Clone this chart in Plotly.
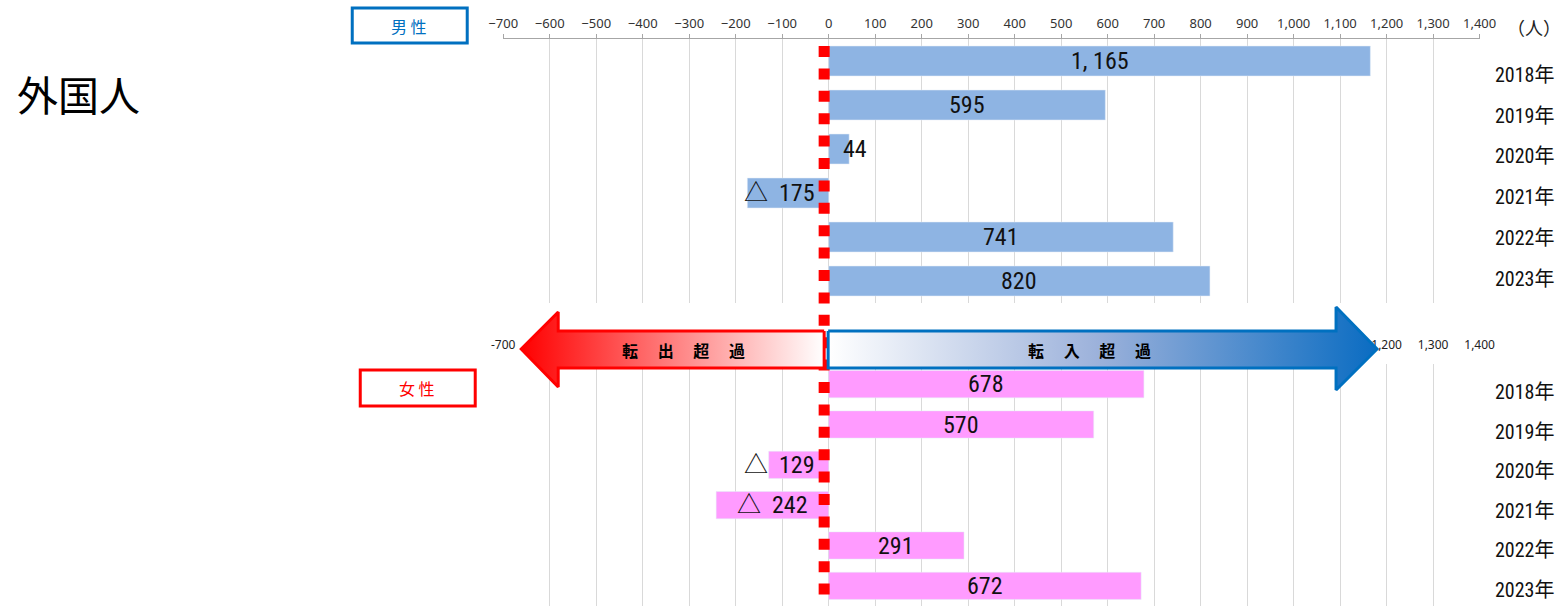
import plotly.graph_objects as go

# ---------------- data ----------------
YEARS = ["2018年", "2019年", "2020年", "2021年", "2022年", "2023年"]
MALE = [1165, 595, 44, -175, 741, 820]
FEMALE = [678, 570, -129, -242, 291, 672]
TICKS = list(range(-700, 1401, 100))
BOTTOM_SHOWN = [-700, 1200, 1300, 1400]
TITLE = "外国人"
UNIT = "（人）"
MALE_LABEL = "男 性"
FEMALE_LABEL = "女 性"
OUT_TEXT = "転　 出　 超　 過"
IN_TEXT = "転　 入　 超　 過"

# page geometry (the capture maps page x to picture x as S*(x+OFF))
TW, H = 1558, 606
S, OFF = 1558 / 1590, 16
W = 1574

NARROW = "Liberation Sans Narrow, Arial Narrow, Roboto Condensed, Noto Sans CJK JP, sans-serif"
CJK = "Noto Sans CJK JP, sans-serif"
SANS = "Noto Sans, Liberation Sans, Arial, sans-serif"

MALE_COLOR = "#8EB4E3"
FEMALE_COLOR = "#FF9BFF"
GRID = "#D9D9D9"
NBSP = "\u00a0"


def fx(xt):
    return (xt / S - OFF) / W


def fmt_val(v):
    if v < 0:
        return "△" + NBSP * 2 + f"{abs(v):,}".replace(",", ", ")
    return f"{v:,}".replace(",", ", ")


X_DOM = [fx(504), fx(1480.6)]
fig = go.Figure()

fig.add_trace(go.Bar(y=YEARS, x=MALE, orientation="h", marker_color=MALE_COLOR,
                     width=0.68, xaxis="x", yaxis="y", hoverinfo="skip", showlegend=False))
fig.add_trace(go.Bar(y=YEARS, x=FEMALE, orientation="h", marker_color=FEMALE_COLOR,
                     width=0.675, xaxis="x2", yaxis="y2", hoverinfo="skip", showlegend=False))

# decorative overlay in picture-pixel space: dotted zero line + arrows
fig.add_trace(go.Scatter(x=[825, 825], y=[46, 606], mode="lines",
                         line=dict(color="#FF0000", width=11, dash="11px,11.4px"),
                         xaxis="x3", yaxis="y3", hoverinfo="skip", showlegend=False))
fig.add_trace(go.Scatter(x=[825, 559, 559, 522, 559, 559, 825, 825],
                         y=[331, 331, 312, 349, 387, 368, 368, 331],
                         mode="lines", fill="toself",
                         fillgradient=dict(type="horizontal",
                                           colorscale=[[0, "#FF0000"], [1, "#FFFFFF"]]),
                         line=dict(color="#FF0000", width=3),
                         xaxis="x3", yaxis="y3", hoverinfo="skip", showlegend=False))
fig.add_trace(go.Scatter(x=[829, 1337, 1337, 1378, 1337, 1337, 829, 829],
                         y=[331, 331, 307, 349, 390, 368, 368, 331],
                         mode="lines", fill="toself",
                         fillgradient=dict(type="horizontal",
                                           colorscale=[[0, "#FFFFFF"], [0.5, "#9AB0DA"], [1, "#0A6CC2"]]),
                         line=dict(color="#0070C0", width=3),
                         xaxis="x3", yaxis="y3", hoverinfo="skip", showlegend=False))

annotations = []
# bar value labels
for vals, xr, yr in [(MALE, "x", "y"), (FEMALE, "x2", "y2")]:
    for yr_lab, v in zip(YEARS, vals):
        if abs(v) < 200:
            # short bars: label hugs the zero line
            ann = dict(x=0, xanchor="left" if v > 0 else "right", xshift=12 if v > 0 else -12)
        else:
            ann = dict(x=v / 2, xanchor="center")
        ann.update(y=yr_lab, xref=xr, yref=yr, text=fmt_val(v), showarrow=False,
                   yanchor="middle", font=dict(family=NARROW, size=24, color="#111111"))
        annotations.append(ann)

# year labels at the right
for i, yl in enumerate(YEARS):
    annotations.append(dict(x=1526, y=75 + 40.7 * i, xref="x3", yref="y3", text=yl,
                            showarrow=False, font=dict(family=NARROW, size=20, color="#111111")))
    annotations.append(dict(x=1526, y=392 + 39.6 * i, xref="x3", yref="y3", text=yl,
                            showarrow=False, font=dict(family=NARROW, size=20, color="#111111")))

annotations += [
    dict(x=0, y=93, xref="paper", yref="y3", text=TITLE, showarrow=False, xanchor="left",
         font=dict(family=CJK, size=41, color="#000000")),
    dict(x=410, y=26, xref="x3", yref="y3", text=MALE_LABEL, showarrow=False,
         font=dict(family=CJK, size=16, color="#0070C0")),
    dict(x=418, y=388, xref="x3", yref="y3", text=FEMALE_LABEL, showarrow=False,
         font=dict(family=CJK, size=16, color="#FF0000")),
    dict(x=1535, y=27, xref="x3", yref="y3", text=UNIT, showarrow=False,
         font=dict(family=CJK, size=18, color="#222222")),
    dict(x=684, y=350, xref="x3", yref="y3", text="<b>" + OUT_TEXT + "</b>", showarrow=False,
         font=dict(family=CJK, size=16, color="#000000")),
    dict(x=1090, y=350, xref="x3", yref="y3", text="<b>" + IN_TEXT + "</b>", showarrow=False,
         font=dict(family=CJK, size=16, color="#000000")),
]

shapes = [
    dict(type="rect", xref="x3", yref="y3", x0=353, y0=8, x1=468, y1=43,
         line=dict(color="#0070C0", width=3), layer="above"),
    dict(type="rect", xref="x3", yref="y3", x0=361, y0=370, x1=476, y1=406,
         line=dict(color="#FF0000", width=3), layer="above"),
]

fig.update_layout(
    width=W, height=H, autosize=False,
    margin=dict(l=0, r=0, t=0, b=0, pad=0),
    paper_bgcolor="white", plot_bgcolor="rgba(0,0,0,0)",
    showlegend=False, barmode="overlay",
    annotations=annotations, shapes=shapes,
    xaxis=dict(domain=X_DOM, range=[-700, 1400], anchor="y", side="top",
               tickmode="array", tickvals=TICKS,
               ticktext=[f"{t:,}".replace("-", "−") for t in TICKS],
               showgrid=True, gridcolor=GRID, gridwidth=1, zeroline=False,
               showline=True, linecolor="#A6A6A6", linewidth=1.5,
               ticks="outside", ticklen=4, tickcolor="#A6A6A6",
               tickfont=dict(family=SANS, size=13, color="#333333"), fixedrange=True),
    yaxis=dict(domain=[1 - 303 / H, 1 - 39 / H], anchor="x", type="category",
               categoryorder="array", categoryarray=YEARS, range=[5.5, -0.5],
               visible=False, fixedrange=True),
    xaxis2=dict(domain=X_DOM, range=[-700, 1400], anchor="y2", side="top",
                tickmode="array", tickvals=TICKS,
                ticktext=[f"{t:,}" if t in BOTTOM_SHOWN else "" for t in TICKS],
                showgrid=True, gridcolor=GRID, gridwidth=1, zeroline=False,
                showline=False, ticks="", ticklabelstandoff=12,
                tickfont=dict(family=SANS, size=12, color="#222222"), fixedrange=True),
    yaxis2=dict(domain=[0, 1 - 364 / H], anchor="x2", type="category",
                categoryorder="array", categoryarray=YEARS, range=[5.5, -0.5],
                visible=False, fixedrange=True),
    xaxis3=dict(domain=[0, 1], range=[S * OFF, S * (W + OFF)], anchor="y3",
                visible=False, fixedrange=True),
    yaxis3=dict(domain=[0, 1], range=[H, 0], anchor="x3", visible=False, fixedrange=True),
)

fig.write_html(
    "out.html",
    config={"displayModeBar": False, "staticPlot": True},
    post_script="document.documentElement.style.margin='0';document.body.style.margin='0';"
                "document.documentElement.style.overflow='hidden';document.body.style.overflow='hidden';",
)
